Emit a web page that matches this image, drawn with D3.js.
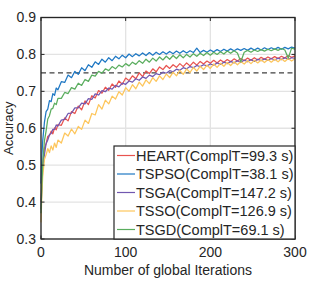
<!DOCTYPE html>
<html><head><meta charset="utf-8">
<script src="https://cdn.jsdelivr.net/npm/d3@7"></script>
<style>body{margin:0;background:#fff}svg{display:block}text{font-family:"Liberation Sans",Arial,sans-serif;fill:#262626}</style>
</head><body><svg id="c" width="323" height="281"></svg>
<script>
const iters=[0,1,2,4,6,8,10,12,14,16,18,20,24,28,32,36,40,44,48,52,56,60,64,68,72,76,80,84,88,92,96,100,104,108,112,116,120,124,128,132,136,140,144,148,152,156,160,164,168,172,176,180,184,188,192,196,200,204,208,212,216,220,224,228,232,236,240,244,248,252,256,260,264,268,272,276,280,284,288,292,296,300];
const seriesNames=["HEART(ComplT=99.3 s)","TSPSO(ComplT=38.1 s)","TSGA(ComplT=147.2 s)","TSSO(ComplT=126.9 s)","TSGD(ComplT=69.1 s)"];
const colors=["#e8534f","#1f78c4","#7158b0","#fdc65c","#5aad5e"];
const heart=[0.400,0.455,0.505,0.545,0.558,0.578,0.580,0.592,0.585,0.601,
0.596,0.610,0.608,0.628,0.620,0.645,0.640,0.660,0.650,0.674,
0.664,0.688,0.682,0.702,0.695,0.711,0.703,0.720,0.711,0.728,
0.719,0.736,0.729,0.742,0.734,0.750,0.740,0.755,0.748,0.761,
0.753,0.766,0.759,0.770,0.762,0.772,0.765,0.775,0.767,0.777,
0.769,0.779,0.771,0.781,0.774,0.782,0.776,0.784,0.777,0.785,
0.779,0.786,0.780,0.788,0.782,0.789,0.783,0.790,0.784,0.791,
0.785,0.792,0.787,0.793,0.788,0.794,0.789,0.795,0.790,0.797,
0.792,0.796];
const tspso=[0.450,0.525,0.565,0.615,0.645,0.652,0.675,0.672,0.694,0.689,
0.709,0.704,0.726,0.724,0.744,0.737,0.754,0.746,0.764,0.756,
0.772,0.765,0.780,0.773,0.787,0.779,0.791,0.783,0.795,0.788,
0.798,0.791,0.801,0.794,0.802,0.796,0.804,0.797,0.805,0.798,
0.806,0.800,0.807,0.801,0.808,0.802,0.809,0.803,0.810,0.804,
0.810,0.805,0.817,0.805,0.811,0.806,0.812,0.807,0.813,0.808,
0.814,0.809,0.815,0.810,0.815,0.811,0.816,0.811,0.817,0.812,
0.817,0.812,0.818,0.813,0.818,0.814,0.819,0.814,0.819,0.815,
0.820,0.817];
const tsga=[0.380,0.440,0.490,0.528,0.558,0.568,0.583,0.586,0.597,0.597,
0.609,0.606,0.622,0.624,0.640,0.641,0.655,0.655,0.668,0.666,
0.680,0.678,0.693,0.690,0.702,0.699,0.709,0.706,0.716,0.712,
0.722,0.719,0.728,0.725,0.734,0.730,0.739,0.735,0.744,0.740,
0.748,0.745,0.752,0.749,0.756,0.753,0.760,0.757,0.764,0.761,
0.767,0.764,0.770,0.767,0.772,0.769,0.774,0.771,0.777,0.773,
0.779,0.775,0.781,0.777,0.783,0.778,0.785,0.780,0.786,0.781,
0.787,0.783,0.788,0.784,0.789,0.785,0.790,0.786,0.791,0.787,
0.791,0.789];
const tsso=[0.345,0.420,0.468,0.515,0.528,0.545,0.534,0.552,0.541,0.560,
0.548,0.568,0.560,0.587,0.579,0.598,0.585,0.605,0.597,0.622,
0.613,0.640,0.636,0.664,0.652,0.676,0.666,0.687,0.679,0.699,
0.690,0.710,0.700,0.718,0.707,0.725,0.714,0.731,0.721,0.737,
0.727,0.742,0.732,0.747,0.737,0.752,0.742,0.757,0.746,0.761,
0.751,0.765,0.755,0.768,0.759,0.771,0.762,0.774,0.765,0.776,
0.768,0.778,0.770,0.780,0.772,0.781,0.774,0.783,0.775,0.784,
0.777,0.785,0.778,0.786,0.779,0.787,0.780,0.788,0.781,0.789,
0.782,0.788];
const tsgd=[0.370,0.445,0.500,0.565,0.592,0.625,0.634,0.652,0.654,0.668,
0.664,0.681,0.681,0.697,0.694,0.710,0.706,0.722,0.716,0.732,
0.727,0.744,0.741,0.754,0.749,0.761,0.756,0.767,0.761,0.771,
0.766,0.775,0.769,0.779,0.773,0.783,0.776,0.787,0.779,0.790,
0.782,0.793,0.785,0.795,0.787,0.797,0.789,0.799,0.791,0.800,
0.793,0.802,0.795,0.803,0.797,0.805,0.798,0.806,0.800,0.807,
0.801,0.809,0.803,0.810,0.804,0.780,0.806,0.811,0.806,0.812,
0.808,0.813,0.809,0.814,0.810,0.815,0.811,0.816,0.812,0.790,
0.817,0.814];
const xTicks=[0,100,200,300];
const yTicks=[0.3,0.4,0.5,0.6,0.7,0.8,0.9];
const threshold=0.75;
const data=[heart,tspso,tsga,tsso,tsgd];

const svg=d3.select("#c");
const L=41,R=295,T=17.5,B=239;
const x=d3.scaleLinear().domain([0,300]).range([L,R]);
const y=d3.scaleLinear().domain([0.3,0.9]).range([B,T]);
const g=svg.append("g");
g.selectAll(".gx").data(xTicks).enter().append("line").attr("x1",d=>x(d)).attr("x2",d=>x(d)).attr("y1",T).attr("y2",B).attr("stroke","#e3e3e3").attr("stroke-width",1.3);
g.selectAll(".gy").data(yTicks).enter().append("line").attr("y1",d=>y(d)).attr("y2",d=>y(d)).attr("x1",L).attr("x2",R).attr("stroke","#e3e3e3").attr("stroke-width",1.3);
g.append("line").attr("x1",L).attr("x2",R).attr("y1",y(threshold)).attr("y2",y(threshold)).attr("stroke","#404040").attr("stroke-width",1.2).attr("stroke-dasharray","5,3.5");
const line=d3.line().x((d,i)=>x(iters[i])).y(d=>y(d));
data.forEach((s,i)=>{
  g.append("path").datum(s).attr("d",line).attr("fill","none").attr("stroke",colors[i]).attr("stroke-width",1.25).attr("stroke-linejoin","round");
});
const ax=svg.append("g");
ax.append("rect").attr("x",L).attr("y",T).attr("width",R-L).attr("height",B-T).attr("fill","none").attr("stroke","#262626").attr("stroke-width",1.3);
const tl=3.5;
xTicks.forEach(d=>{
  ax.append("line").attr("x1",x(d)).attr("x2",x(d)).attr("y1",B).attr("y2",B-tl).attr("stroke","#262626");
  ax.append("line").attr("x1",x(d)).attr("x2",x(d)).attr("y1",T).attr("y2",T+tl).attr("stroke","#262626");
  ax.append("text").attr("x",x(d)).attr("y",B+18).attr("text-anchor","middle").attr("font-size",14).text(d);
});
yTicks.forEach(d=>{
  ax.append("line").attr("y1",y(d)).attr("y2",y(d)).attr("x1",L).attr("x2",L+tl).attr("stroke","#262626");
  ax.append("line").attr("y1",y(d)).attr("y2",y(d)).attr("x1",R).attr("x2",R-tl).attr("stroke","#262626");
  ax.append("text").attr("x",L-5).attr("y",y(d)).attr("dy","0.35em").attr("text-anchor","end").attr("font-size",14).text(d.toFixed(1));
});
ax.append("text").attr("x",(L+R)/2).attr("y",275).attr("text-anchor","middle").attr("font-size",14).text("Number of global Iterations");
ax.append("text").attr("transform",`translate(13,${(T+B)/2}) rotate(-90)`).attr("text-anchor","middle").attr("font-size",13).text("Accuracy");
const lg=svg.append("g");
lg.append("rect").attr("x",114).attr("y",146).attr("width",R-114).attr("height",B-146).attr("fill","#fff").attr("stroke","#262626").attr("stroke-width",1.2);
seriesNames.forEach((n,i)=>{
  const yy=155.5+i*18.5;
  lg.append("line").attr("x1",117).attr("x2",135).attr("y1",yy).attr("y2",yy).attr("stroke",colors[i]).attr("stroke-width",1.2);
  lg.append("text").attr("x",136).attr("y",yy).attr("dy","0.36em").attr("font-size",14.5).text(n);
});
</script></body></html>
